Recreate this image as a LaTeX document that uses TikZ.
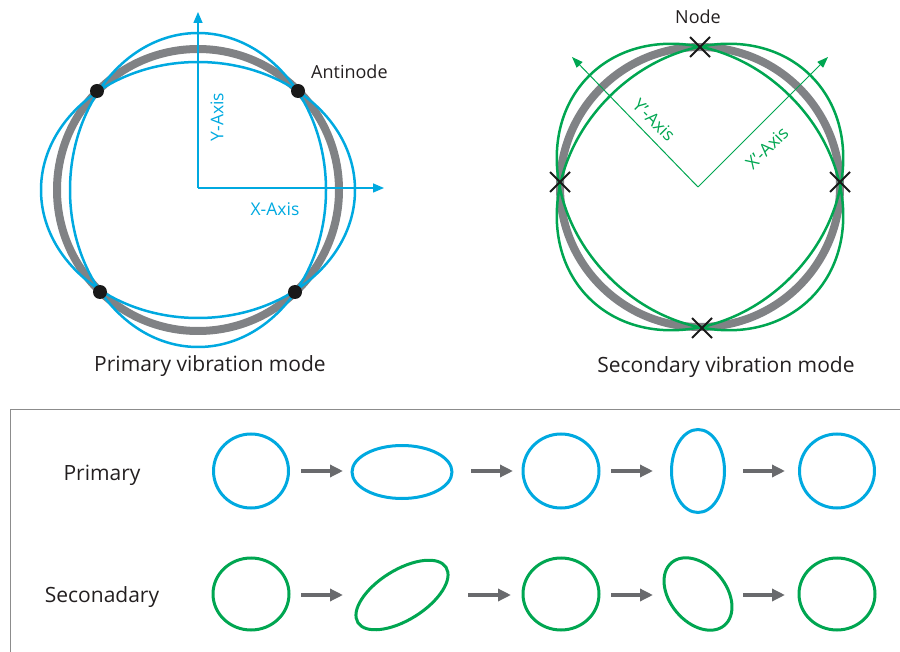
\documentclass[tikz,border=0pt]{standalone}
\usepackage{fontspec}
\setmainfont{Open Sans}
\usetikzlibrary{arrows.meta,shapes.geometric,shapes.misc}

\definecolor{modeblue}{RGB}{0,169,224}
\definecolor{modegreen}{RGB}{0,166,81}
\definecolor{ringgray}{RGB}{128,130,133}
\definecolor{arrowgray}{RGB}{105,106,109}
\definecolor{textdark}{RGB}{35,31,32}
\definecolor{framegray}{RGB}{140,140,140}

\begin{document}
\begin{tikzpicture}[x=1pt,y=-1pt,
  ring/.style={ringgray, line width=8pt},
  bluecurve/.style={modeblue, line width=2.5pt},
  greencurve/.style={modegreen, line width=2.5pt},
  blueaxis/.style={modeblue, line width=1.5pt, -{Triangle[length=11pt,width=9pt]}},
  greenaxis/.style={modegreen, line width=1pt, -{Triangle[length=11pt,width=8pt]}},
  antidot/.style={circle, fill=black!90, inner sep=0pt, minimum size=14pt},
  nodemark/.style={cross out, draw=black!90, line width=2pt, minimum size=18pt, inner sep=0pt},
  bigtext/.style={text=textdark, inner sep=0pt, font=\fontsize{21}{25}\selectfont},
  midtext/.style={text=textdark, inner sep=0pt, font=\fontsize{18}{22}\selectfont},
  axistext/.style={inner sep=0pt, font=\fontsize{17.5}{21}\selectfont},
  blueshape/.style={ellipse, draw=modeblue, line width=3pt, inner sep=0pt},
  greenshape/.style={ellipse, draw=modegreen, line width=3pt, inner sep=0pt},
  steparrow/.style={arrowgray, line width=3.5pt, -{Triangle[length=13pt,width=12pt]}}
]
\useasboundingbox (0,0) rectangle (900,652);

% ---------- primary mode: ring, deformed shapes, axes ----------
\draw[ring] (198,190) circle [radius=141pt];
\draw[bluecurve] (198,190) ellipse [x radius=157pt, y radius=128pt];
\draw[bluecurve] (198,190) ellipse [x radius=128pt, y radius=157pt];

\coordinate (po) at (198,188);
\coordinate (py) at (198,12);
\coordinate (px) at (384,188);
\draw[blueaxis] (po) -- (py);
\draw[blueaxis] (po) -- (px);
\node[axistext, text=modeblue, rotate=90] (ylab) at (217,117) {Y-Axis};
\node[axistext, text=modeblue] (xlab) at (275,209) {X-Axis};

\node[antidot] (an1) at (97,91) {};
\node[antidot] (an2) at (298,91) {};
\node[antidot] (an3) at (100,292) {};
\node[antidot] (an4) at (295,292) {};
\node[midtext, anchor=base west] (antilab) at (311,79) {Antinode};

\node[bigtext, anchor=base] (cap1) at (210,371) {Primary vibration mode};

% ---------- secondary mode: ring, deformed shapes, rotated axes ----------
\draw[ring] (700,187) circle [radius=140pt];
\draw[greencurve, rotate around={45:(700,187)}] (700,187) ellipse [x radius=157pt, y radius=128pt];
\draw[greencurve, rotate around={-45:(700,187)}] (700,187) ellipse [x radius=157pt, y radius=128pt];

\coordinate (so) at (698,187);
\coordinate (sy) at (572,57);
\coordinate (sx) at (828,57);
\draw[greenaxis] (so) -- (sy);
\draw[greenaxis] (so) -- (sx);
\node[axistext, text=modegreen, rotate=-45] (yplab) at (654,120) {Y’-Axis};
\node[axistext, text=modegreen, rotate=45] (xplab) at (767,148) {X’-Axis};

\node[nodemark] (nd1) at (700,47) {};
\node[nodemark] (nd2) at (560,182) {};
\node[nodemark] (nd3) at (840,182) {};
\node[nodemark] (nd4) at (702,328) {};
\node[midtext, anchor=base] (nodelab) at (698,24) {Node};

\node[bigtext, anchor=base] (cap2) at (726,373) {Secondary vibration mode};

% ---------- shape sequence over one cycle ----------
\draw[framegray, line width=1pt] (900,409) -- (10,409) -- (10,652);

\node[bigtext, anchor=base] (rowp) at (102,480) {Primary};
\node[bigtext, anchor=base] (rows) at (102,602) {Seconadary};

\node[blueshape, minimum width=75pt, minimum height=74pt] (p1) at (251,471) {};
\node[blueshape, minimum width=100pt, minimum height=53pt] (p2) at (402,472) {};
\node[blueshape, minimum width=76pt, minimum height=74pt] (p3) at (561,471) {};
\node[blueshape, minimum width=53pt, minimum height=83pt] (p4) at (698,471) {};
\node[blueshape, minimum width=75pt, minimum height=74pt] (p5) at (837,471) {};

\node[greenshape, minimum width=76pt, minimum height=72pt] (s1) at (251,594) {};
\node[greenshape, minimum width=104pt, minimum height=50pt, rotate=32] (s2) at (402,595) {};
\node[greenshape, minimum width=76pt, minimum height=72pt] (s3) at (561,594) {};
\node[greenshape, minimum width=82pt, minimum height=56pt, rotate=-50] (s4) at (698,594) {};
\node[greenshape, minimum width=76pt, minimum height=72pt] (s5) at (837,594) {};

\coordinate (pa1s) at (301,471); \coordinate (pa1e) at (343,471);
\coordinate (pa2s) at (471,471); \coordinate (pa2e) at (513,471);
\coordinate (pa3s) at (611,471); \coordinate (pa3e) at (653,471);
\coordinate (pa4s) at (743,471); \coordinate (pa4e) at (785,471);
\draw[steparrow] (pa1s) -- (pa1e);
\draw[steparrow] (pa2s) -- (pa2e);
\draw[steparrow] (pa3s) -- (pa3e);
\draw[steparrow] (pa4s) -- (pa4e);

\coordinate (sa1s) at (301,595); \coordinate (sa1e) at (343,595);
\coordinate (sa2s) at (468,595); \coordinate (sa2e) at (511,595);
\coordinate (sa3s) at (611,595); \coordinate (sa3e) at (653,595);
\coordinate (sa4s) at (743,595); \coordinate (sa4e) at (785,595);
\draw[steparrow] (sa1s) -- (sa1e);
\draw[steparrow] (sa2s) -- (sa2e);
\draw[steparrow] (sa3s) -- (sa3e);
\draw[steparrow] (sa4s) -- (sa4e);
\end{tikzpicture}
\end{document}
